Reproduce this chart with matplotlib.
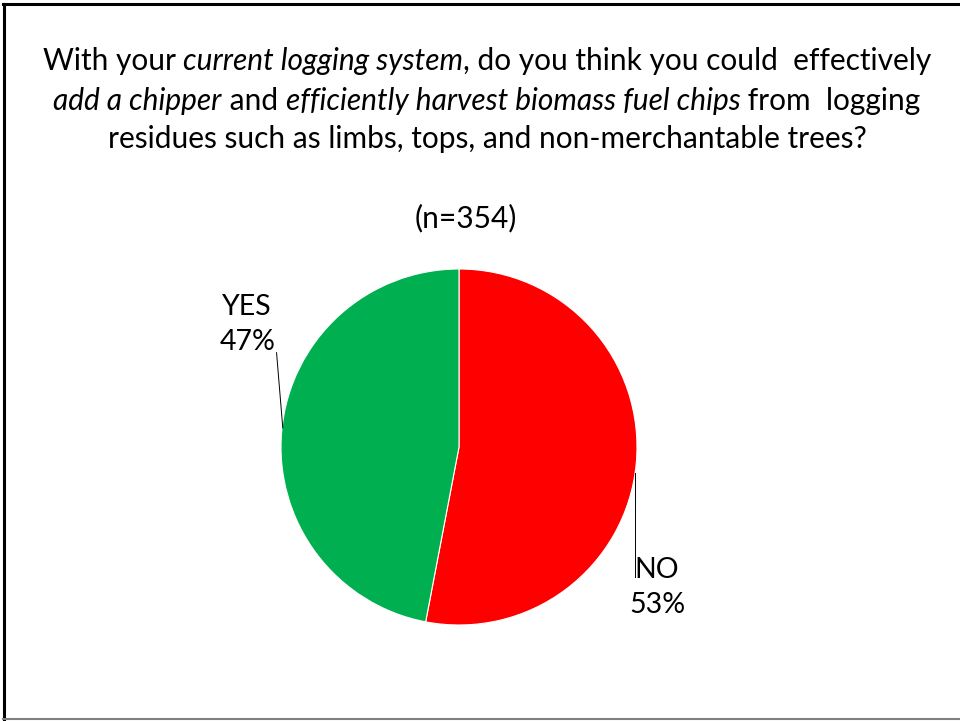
import matplotlib
matplotlib.use("Agg")
import matplotlib.pyplot as plt
from matplotlib.lines import Line2D

# data
labels = ["NO", "YES"]
shares = [53, 47]
colors = ["#FF0000", "#00B050"]
n_resp = 354

# title pieces: (text, italic)
title_lines = [
    [("With your ", False), ("current logging system", True),
     (", do you think you could  effectively", False)],
    [("add a chipper", True), (" and ", False),
     ("efficiently harvest biomass fuel chips", True), (" from  logging", False)],
    [("residues such as limbs, tops, and non-merchantable trees?", False)],
]

plt.rcParams["font.family"] = ["Lato", "DejaVu Sans"]
W, H = 960, 721
fig = plt.figure(figsize=(9.6, 7.21), dpi=100)

# frame around the slide
fig.add_artist(Line2D([4 / W, 4 / W], [1 - 4 / H, 2 / H], color="black", lw=2.2))
fig.add_artist(Line2D([3 / W, 1], [1 - 4 / H, 1 - 4 / H], color="black", lw=2.2))
fig.add_artist(Line2D([3 / W, 1], [2 / H, 2 / H], color="#808080", lw=1.5))

# title, mixed italic, centred per line
fs = 21.5
renderer = fig.canvas.get_renderer()
line_y = [61, 101, 139]
cx = 487
for parts, yy in zip(title_lines, line_y):
    texts = []
    for s, it in parts:
        t = fig.text(0, 1 - yy / H, s, fontsize=fs, va="center", ha="left",
                     style="italic" if it else "normal")
        texts.append(t)
    widths = [t.get_window_extent(renderer).width for t in texts]
    x = cx - sum(widths) / 2
    for t, w in zip(texts, widths):
        t.set_x(x / W)
        x += w

fig.text(466 / W, 1 - 218 / H, f"(n={n_resp})", fontsize=fs, ha="center", va="center")

# pie: centre (459, 447), radius 178 px
r = 178
ax = fig.add_axes([(459 - r) / W, (H - 447 - r) / H, 2 * r / W, 2 * r / H])
ax.pie(shares, colors=colors, startangle=90, counterclock=False, radius=1,
       wedgeprops=dict(linewidth=0.8, edgecolor="white"))
ax.set_xlim(-1, 1)
ax.set_ylim(-1, 1)
ax.set_aspect("equal")
ax.axis("off")

# labels with leader lines
lfs = 20.5
ax.text(1.112, -0.79, f"{labels[0]}\n{shares[0]}%", fontsize=lfs, ha="center",
        va="center", linespacing=1.42)
ax.plot([0.989, 0.989], [-0.146, -0.73], color="black", lw=0.7, clip_on=False)
ax.text(-1.19, 0.69, f"{labels[1]}\n{shares[1]}%", fontsize=lfs, ha="center",
        va="center", linespacing=1.42)
ax.plot([-1.025, -0.99], [0.53, 0.107], color="black", lw=0.7, clip_on=False)

fig.savefig("out.png", dpi=100)
